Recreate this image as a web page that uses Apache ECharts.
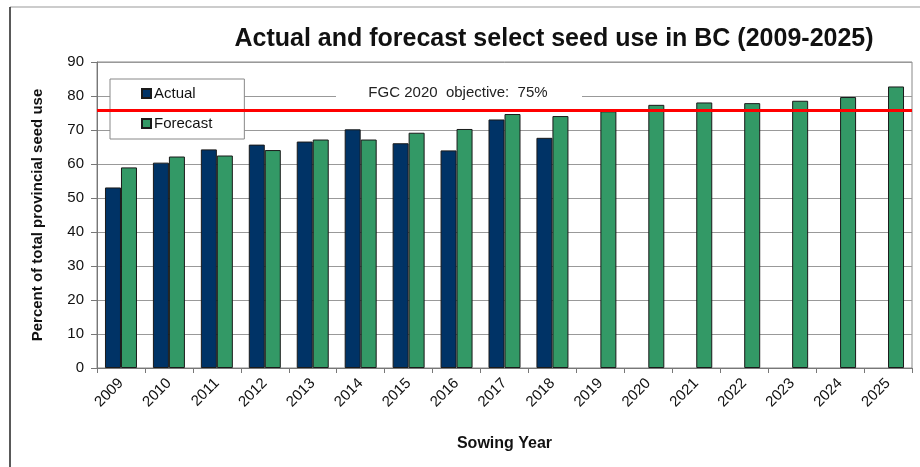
<!DOCTYPE html>
<html><head><meta charset="utf-8">
<script src="https://cdn.jsdelivr.net/npm/echarts@6/dist/echarts.min.js"></script>
<style>html,body{margin:0;padding:0;background:#fff}#c{width:920px;height:467px}</style>
</head><body><div id="c"></div>
<script>
const years = ['2009','2010','2011','2012','2013','2014','2015','2016','2017','2018','2019','2020','2021','2022','2023','2024','2025'];
const actual = [53.1,60.4,64.3,65.7,66.6,70.2,66.1,64.0,73.1,67.7,null,null,null,null,null,null,null];
const forecast = [59.0,62.2,62.5,64.1,67.2,67.2,69.2,70.3,74.7,74.1,75.5,77.4,78.1,77.9,78.6,79.7,82.8];
const objective = 75.8;
const yTicks = {min:0, max:90, interval:10};

const chart = echarts.init(document.getElementById('c'), null, {renderer:'canvas'});
const F = 'Arial, "Liberation Sans", sans-serif';
chart.setOption({
  animation:false,
  backgroundColor:'#fff',
  textStyle:{fontFamily:F},
  title:{text:'Actual and forecast select seed use in BC (2009-2025)', left:549, top:22, textAlign:'center',
    textStyle:{fontFamily:F, fontSize:25, fontWeight:'bold', color:'#111'}},
  legend:{orient:'vertical', left:110, top:79, padding:[7,32,8,31],
    backgroundColor:'#fff', borderColor:'#888', borderWidth:1,
    itemWidth:9, itemHeight:9, itemGap:15, icon:'rect',
    textStyle:{fontFamily:F, fontSize:15, color:'#111', padding:[0,0,0,-2]},
    data:['Actual','Forecast']},
  grid:{left:97, right:8, top:62, bottom:99, show:true, borderColor:'#888', borderWidth:1},
  xAxis:{type:'category', data:years, name:'Sowing Year', nameLocation:'middle', nameGap:68,
    nameTextStyle:{fontFamily:F, fontSize:16, fontWeight:'bold', color:'#111'},
    axisLine:{lineStyle:{color:'#777'}},
    axisTick:{show:true, alignWithLabel:false, length:5, lineStyle:{color:'#777'}},
    axisLabel:{rotate:45, fontFamily:F, fontSize:15, color:'#111', margin:13},
    splitLine:{show:false}},
  yAxis:{type:'value', min:yTicks.min, max:yTicks.max, interval:yTicks.interval,
    name:'Percent of total provincial seed use', nameLocation:'middle', nameGap:52,
    nameTextStyle:{fontFamily:F, fontSize:15, fontWeight:'bold', color:'#111'},
    axisLine:{show:true, lineStyle:{color:'#777'}},
    axisTick:{show:true, length:6, lineStyle:{color:'#777'}},
    axisLabel:{fontFamily:F, fontSize:15, color:'#111', margin:13},
    splitLine:{lineStyle:{color:'#999', width:1}}},
  series:[
    {name:'Actual', type:'bar', data:actual, barWidth:16, barGap:'0%',
      itemStyle:{color:'#003366', borderColor:'#1a1a1a', borderWidth:1}},
    {name:'Forecast', type:'bar', data:forecast, barWidth:16,
      itemStyle:{color:'#339966', borderColor:'#1a1a1a', borderWidth:1},
      markLine:{silent:true, symbol:'none', z:10, label:{show:false},
        lineStyle:{color:'#ff0000', width:3, type:'solid'},
        data:[{yAxis:objective}]}}
  ],
  graphic:[
    {type:'line', shape:{x1:10, y1:7, x2:920, y2:7}, style:{stroke:'#999', lineWidth:1}, z:1},
    {type:'line', shape:{x1:10, y1:7, x2:10, y2:467}, style:{stroke:'#222', lineWidth:1.5}, z:1},
    {type:'rect', shape:{x:336, y:83, width:246, height:20}, style:{fill:'#fff'}, z:3},
    {type:'text', x:458, y:93, z:4, style:{text:'FGC 2020  objective:  75%', fill:'#222',
      font:'15px Arial, "Liberation Sans", sans-serif', textAlign:'center', textVerticalAlign:'middle'}}
  ]
});
</script></body></html>
